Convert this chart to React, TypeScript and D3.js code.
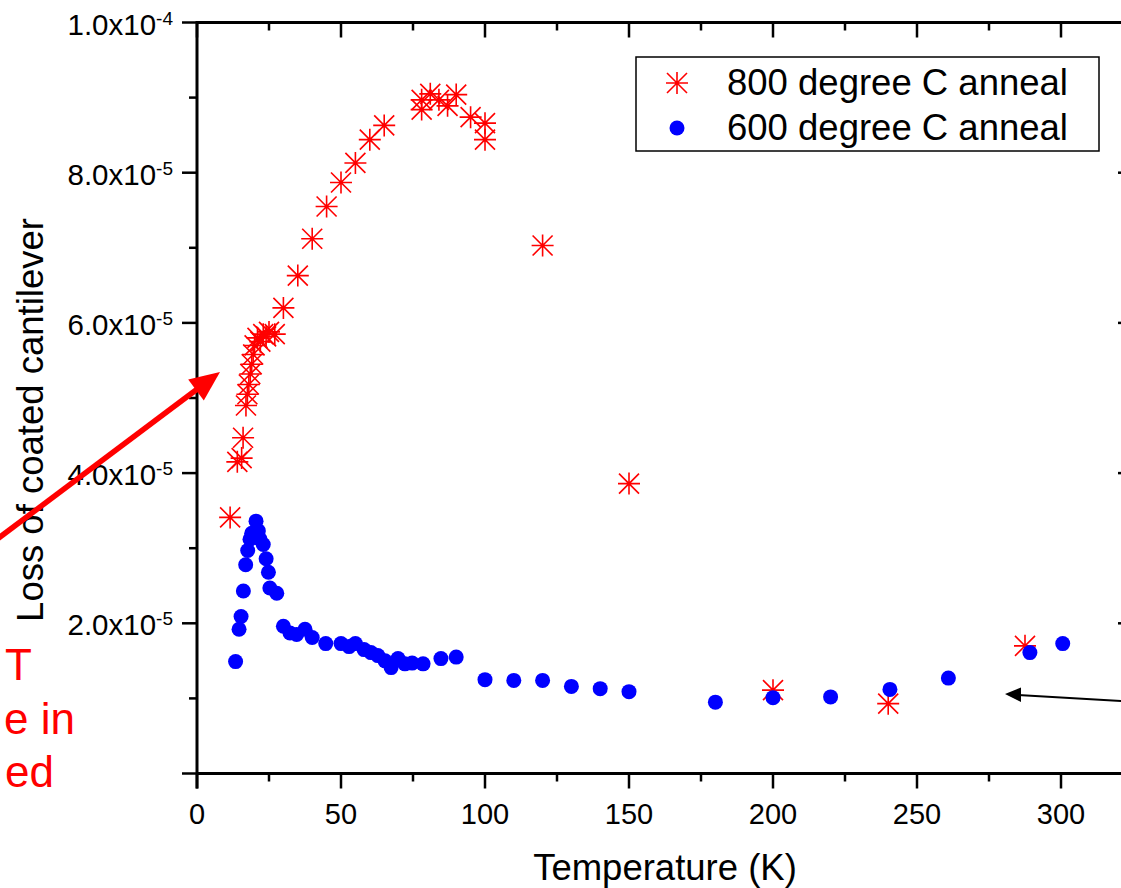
import React from "react";
import * as d3 from "d3";

// ---- data (loss values in units of 1e-5) ----
const temps800 = [11.5, 14, 15.5, 16, 17, 17.5, 18, 18.5, 19, 19.5, 20, 21, 22, 23, 24, 25, 27, 30, 35, 40, 45, 50, 55, 60, 65, 78, 78, 81, 84, 87, 90, 95, 100, 100, 120, 150, 200, 240, 287.5];
const loss800 = [3.41, 4.15, 4.2, 4.47, 4.9, 5.05, 5.18, 5.32, 5.45, 5.58, 5.7, 5.8, 5.75, 5.85, 5.82, 5.88, 5.85, 6.2, 6.63, 7.12, 7.55, 7.87, 8.13, 8.44, 8.63, 8.84, 8.97, 9.05, 8.97, 8.89, 9.04, 8.74, 8.66, 8.44, 7.03, 3.86, 1.11, 0.93, 1.70];

const temps600 = [13.4, 14.6, 15.3, 16.1, 16.9, 17.6, 18.4, 19, 20.5, 21.3, 21.9, 23, 24, 24.8, 25.3, 27.7, 30, 32.3, 34.6, 37.5, 40, 44.7, 50, 52.8, 55, 58, 60.4, 62.8, 65.3, 67.4, 69.8, 72.2, 74.7, 78.5, 84.7, 90, 100, 110, 120, 130, 140, 150, 180, 200, 220, 240.6, 260.9, 289.2, 300.6];
const loss600 = [1.49, 1.92, 2.09, 2.43, 2.78, 2.97, 3.12, 3.2, 3.36, 3.23, 3.12, 3.05, 2.86, 2.68, 2.47, 2.4, 1.96, 1.87, 1.85, 1.92, 1.81, 1.73, 1.73, 1.69, 1.73, 1.65, 1.61, 1.57, 1.5, 1.41, 1.53, 1.46, 1.47, 1.46, 1.53, 1.55, 1.25, 1.24, 1.24, 1.16, 1.13, 1.09, 0.95, 1.01, 1.02, 1.12, 1.27, 1.61, 1.73];

const seriesNames = ["800 degree C anneal", "600 degree C anneal"];

const xMajorTicks = [0, 50, 100, 150, 200, 250, 300];
const xMinorTicks = [25, 75, 125, 175, 225, 275, 325];
const yMajorTicks = [0, 2e-5, 4e-5, 6e-5, 8e-5, 1e-4];
const yMinorTicks = [1e-5, 3e-5, 5e-5, 7e-5, 9e-5];
const yTickMantissas = ["", "2.0x10", "4.0x10", "6.0x10", "8.0x10", "1.0x10"];
const yTickExponents = ["", "-5", "-5", "-5", "-5", "-4"];

const xTitle = "Temperature (K)";
const yTitle = "Loss of coated cantilever";
const annotationLines = ["T", "e in", "ed"];

const W = 1121;
const H = 888;
const FONT = "Arial, 'Liberation Sans', Helvetica, sans-serif";

export default function App() {
  const x = d3.scaleLinear().domain([0, 325]).range([197, 1133]);
  const y = d3.scaleLinear().domain([0, 1e-4]).range([773.5, 22.5]);
  const [x0, x1] = x.range();
  const [yb, yt] = y.range();
  const majLen = 15;
  const minLen = 8;
  const axisW = 3;
  const tickW = 2.5;

  const starPath = "M-11,0H11M0,-11V11M-10,-10L10,10M-10,10L10,-10";

  return (
    <svg
      width={W}
      height={H}
      viewBox={`0 0 ${W} ${H}`}
      style={{ position: "absolute", left: 0, top: 0, background: "#fff" }}
      fontFamily={FONT}
    >
      <rect x={0} y={0} width={W} height={H} fill="#fff" />

      {/* axes frame */}
      <g stroke="#000" strokeWidth={axisW} fill="none">
        <line x1={x0} y1={yb} x2={x1} y2={yb} />
        <line x1={x0} y1={yt} x2={x1} y2={yt} />
        <line x1={x0} y1={yb + majLen} x2={x0} y2={yt - 1.5} />
        <line x1={x1} y1={yb} x2={x1} y2={yt} />
      </g>

      {/* bottom ticks (outward) and top ticks (inward) */}
      <g stroke="#000" strokeWidth={tickW}>
        {xMajorTicks.map((t) => (
          <g key={"xm" + t}>
            <line x1={x(t)} x2={x(t)} y1={yb} y2={yb + majLen} />
            <line x1={x(t)} x2={x(t)} y1={yt} y2={yt + majLen} />
          </g>
        ))}
        {xMinorTicks.map((t) => (
          <g key={"xn" + t}>
            <line x1={x(t)} x2={x(t)} y1={yb} y2={yb + minLen} />
            <line x1={x(t)} x2={x(t)} y1={yt} y2={yt + minLen} />
          </g>
        ))}
        {yMajorTicks.map((v) => (
          <g key={"ym" + v}>
            <line x1={x0 - majLen} x2={x0} y1={y(v)} y2={y(v)} />
            <line x1={x1 - majLen} x2={x1} y1={y(v)} y2={y(v)} />
          </g>
        ))}
        {yMinorTicks.map((v) => (
          <g key={"yn" + v}>
            <line x1={x0 - minLen} x2={x0} y1={y(v)} y2={y(v)} />
            <line x1={x1 - minLen} x2={x1} y1={y(v)} y2={y(v)} />
          </g>
        ))}
      </g>

      {/* x tick labels */}
      <g fontSize={29} textAnchor="middle" fill="#000">
        {xMajorTicks.map((t) => (
          <text key={"xl" + t} x={x(t)} y={yb + 50}>
            {t}
          </text>
        ))}
      </g>

      {/* y tick labels */}
      <g fontSize={29.5} textAnchor="end" fill="#000">
        {yMajorTicks.map((v, i) =>
          yTickMantissas[i] ? (
            <text key={"yl" + v} x={x0 - 24} y={y(v) + 12}>
              {yTickMantissas[i]}
              <tspan fontSize={19} dy={-10}>
                {yTickExponents[i]}
              </tspan>
            </text>
          ) : null
        )}
      </g>

      {/* axis titles */}
      <text x={665} y={880} fontSize={36.5} textAnchor="middle" fill="#000">
        {xTitle}
      </text>
      <text
        transform={`translate(43,420) rotate(-90)`}
        fontSize={36.5}
        textAnchor="middle"
        fill="#000"
      >
        {yTitle}
      </text>

      {/* 800 C series: asterisks */}
      <g stroke="#ff0000" strokeWidth={1.6} fill="none">
        {temps800.map((t, i) => (
          <path
            key={"s8" + i}
            transform={`translate(${x(t)},${y(loss800[i] * 1e-5)})`}
            d={starPath}
          />
        ))}
      </g>

      {/* 600 C series: filled circles */}
      <g fill="#0000ff">
        {temps600.map((t, i) => (
          <circle key={"s6" + i} cx={x(t)} cy={y(loss600[i] * 1e-5)} r={7.5} />
        ))}
      </g>

      {/* legend */}
      <rect x={636} y={57} width={463} height={94} fill="#fff" stroke="#000" strokeWidth={1.5} />
      <path transform="translate(677,83)" d={starPath} stroke="#ff0000" strokeWidth={1.6} fill="none" />
      <circle cx={677} cy={128} r={7.5} fill="#0000ff" />
      <g fontSize={36.5} fill="#000">
        <text x={727} y={95}>{seriesNames[0]}</text>
        <text x={727} y={140}>{seriesNames[1]}</text>
      </g>

      {/* red annotation arrow */}
      <line x1={-2} y1={538.5} x2={200} y2={387} stroke="#ff0000" strokeWidth={5.5} />
      <polygon points="220,372 203.8,400.4 188.2,379.6" fill="#ff0000" />

      {/* red annotation text (cut off at left edge) */}
      <g fontSize={44} fill="#ff0000" textAnchor="end">
        <text x={32} y={680}>{annotationLines[0]}</text>
        <text x={75} y={734}>{annotationLines[1]}</text>
        <text x={54} y={787}>{annotationLines[2]}</text>
      </g>

      {/* black arrow on right */}
      <line x1={1123} y1={701} x2={1018} y2={695} stroke="#000" strokeWidth={2} />
      <polygon points="1005,694 1021,687.5 1021,702" fill="#000" />
    </svg>
  );
}
